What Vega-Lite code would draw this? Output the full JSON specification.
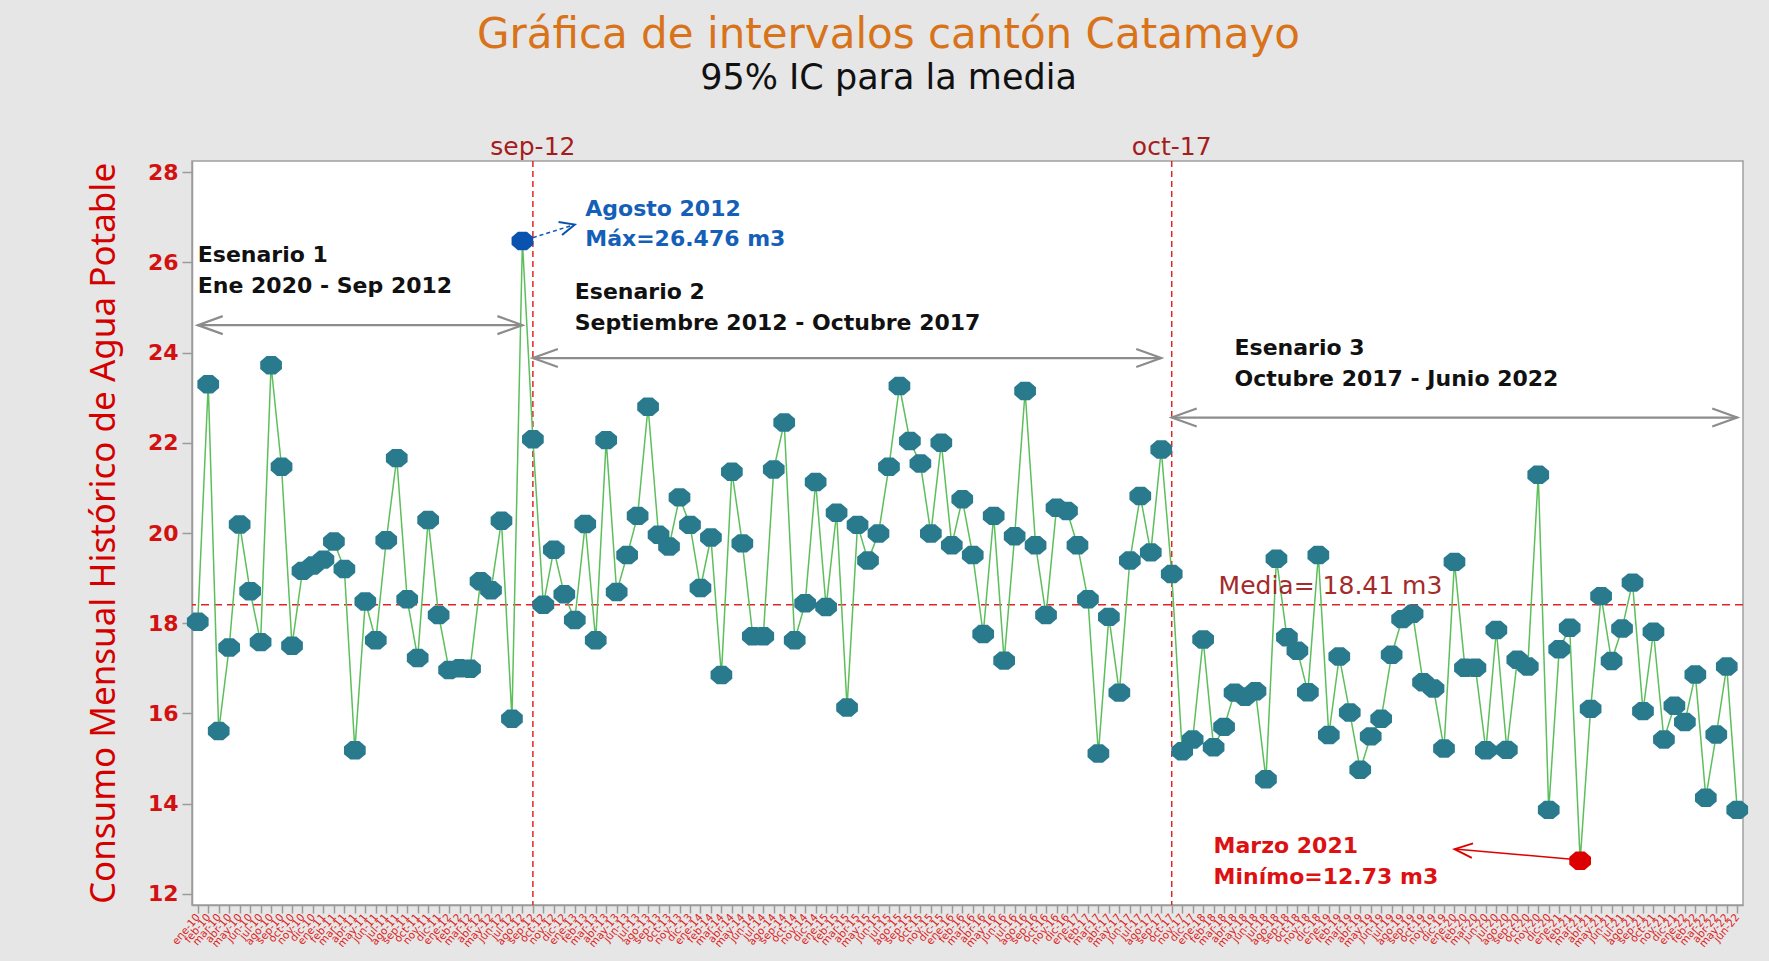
{
  "$schema": "https://vega.github.io/schema/vega-lite/v6.json",
  "width": 1551,
  "height": 744,
  "autosize": {"type": "none"},
  "padding": {"left": 192, "top": 161, "right": 26, "bottom": 56},
  "background": "#e6e6e6",
  "config": {
    "view": {"fill": "white", "stroke": "#a0a0a0", "strokeWidth": 1.5},
    "text": {"font": "DejaVu Sans"}
  },
  "title": {
    "text": "Gráfica de intervalos cantón Catamayo",
    "subtitle": "95% IC para la media",
    "color": "#d9731a",
    "font": "DejaVu Sans",
    "fontSize": 42,
    "fontWeight": "normal",
    "subtitleColor": "#111111",
    "subtitleFont": "DejaVu Sans",
    "subtitleFontSize": 35,
    "subtitlePadding": 4,
    "anchor": "middle",
    "frame": "group",
    "dx": -79,
    "offset": 38
  },
  "datasets": {
    "serie": [
      {"mes": "ene-10", "valor": 18.03}, {"mes": "feb-10", "valor": 23.30}, {"mes": "mar-10", "valor": 15.61}, {"mes": "abr-10", "valor": 17.46}, {"mes": "may-10", "valor": 20.19}, {"mes": "jun-10", "valor": 18.71}, {"mes": "jul-10", "valor": 17.58}, {"mes": "ago-10", "valor": 23.72}, {"mes": "sep-10", "valor": 21.47}, {"mes": "oct-10", "valor": 17.50}, {"mes": "nov-10", "valor": 19.16}, {"mes": "dic-10", "valor": 19.28},
      {"mes": "ene-11", "valor": 19.41}, {"mes": "feb-11", "valor": 19.81}, {"mes": "mar-11", "valor": 19.20}, {"mes": "abr-11", "valor": 15.18}, {"mes": "may-11", "valor": 18.48}, {"mes": "jun-11", "valor": 17.62}, {"mes": "jul-11", "valor": 19.84}, {"mes": "ago-11", "valor": 21.66}, {"mes": "sep-11", "valor": 18.53}, {"mes": "oct-11", "valor": 17.23}, {"mes": "nov-11", "valor": 20.29}, {"mes": "dic-11", "valor": 18.18},
      {"mes": "ene-12", "valor": 16.96}, {"mes": "feb-12", "valor": 17.00}, {"mes": "mar-12", "valor": 16.99}, {"mes": "abr-12", "valor": 18.93}, {"mes": "may-12", "valor": 18.73}, {"mes": "jun-12", "valor": 20.27}, {"mes": "jul-12", "valor": 15.88}, {"mes": "ago-12", "valor": 26.476}, {"mes": "sep-12", "valor": 22.08}, {"mes": "oct-12", "valor": 18.41}, {"mes": "nov-12", "valor": 19.63}, {"mes": "dic-12", "valor": 18.64},
      {"mes": "ene-13", "valor": 18.07}, {"mes": "feb-13", "valor": 20.20}, {"mes": "mar-13", "valor": 17.62}, {"mes": "abr-13", "valor": 22.06}, {"mes": "may-13", "valor": 18.69}, {"mes": "jun-13", "valor": 19.51}, {"mes": "jul-13", "valor": 20.38}, {"mes": "ago-13", "valor": 22.80}, {"mes": "sep-13", "valor": 19.96}, {"mes": "oct-13", "valor": 19.70}, {"mes": "nov-13", "valor": 20.79}, {"mes": "dic-13", "valor": 20.18},
      {"mes": "ene-14", "valor": 18.78}, {"mes": "feb-14", "valor": 19.90}, {"mes": "mar-14", "valor": 16.85}, {"mes": "abr-14", "valor": 21.36}, {"mes": "may-14", "valor": 19.77}, {"mes": "jun-14", "valor": 17.71}, {"mes": "jul-14", "valor": 17.71}, {"mes": "ago-14", "valor": 21.41}, {"mes": "sep-14", "valor": 22.45}, {"mes": "oct-14", "valor": 17.62}, {"mes": "nov-14", "valor": 18.44}, {"mes": "dic-14", "valor": 21.13},
      {"mes": "ene-15", "valor": 18.36}, {"mes": "feb-15", "valor": 20.45}, {"mes": "mar-15", "valor": 16.13}, {"mes": "abr-15", "valor": 20.18}, {"mes": "may-15", "valor": 19.39}, {"mes": "jun-15", "valor": 19.99}, {"mes": "jul-15", "valor": 21.47}, {"mes": "ago-15", "valor": 23.26}, {"mes": "sep-15", "valor": 22.04}, {"mes": "oct-15", "valor": 21.54}, {"mes": "nov-15", "valor": 19.99}, {"mes": "dic-15", "valor": 22.00},
      {"mes": "ene-16", "valor": 19.73}, {"mes": "feb-16", "valor": 20.75}, {"mes": "mar-16", "valor": 19.51}, {"mes": "abr-16", "valor": 17.76}, {"mes": "may-16", "valor": 20.38}, {"mes": "jun-16", "valor": 17.17}, {"mes": "jul-16", "valor": 19.93}, {"mes": "ago-16", "valor": 23.15}, {"mes": "sep-16", "valor": 19.73}, {"mes": "oct-16", "valor": 18.18}, {"mes": "nov-16", "valor": 20.56}, {"mes": "dic-16", "valor": 20.49},
      {"mes": "ene-17", "valor": 19.73}, {"mes": "feb-17", "valor": 18.53}, {"mes": "mar-17", "valor": 15.11}, {"mes": "abr-17", "valor": 18.14}, {"mes": "may-17", "valor": 16.46}, {"mes": "jun-17", "valor": 19.39}, {"mes": "jul-17", "valor": 20.82}, {"mes": "ago-17", "valor": 19.57}, {"mes": "sep-17", "valor": 21.85}, {"mes": "oct-17", "valor": 19.09}, {"mes": "nov-17", "valor": 15.16}, {"mes": "dic-17", "valor": 15.42},
      {"mes": "ene-18", "valor": 17.64}, {"mes": "feb-18", "valor": 15.25}, {"mes": "mar-18", "valor": 15.70}, {"mes": "abr-18", "valor": 16.46}, {"mes": "may-18", "valor": 16.37}, {"mes": "jun-18", "valor": 16.49}, {"mes": "jul-18", "valor": 14.54}, {"mes": "ago-18", "valor": 19.43}, {"mes": "sep-18", "valor": 17.69}, {"mes": "oct-18", "valor": 17.39}, {"mes": "nov-18", "valor": 16.47}, {"mes": "dic-18", "valor": 19.51},
      {"mes": "ene-19", "valor": 15.52}, {"mes": "feb-19", "valor": 17.26}, {"mes": "mar-19", "valor": 16.02}, {"mes": "abr-19", "valor": 14.75}, {"mes": "may-19", "valor": 15.49}, {"mes": "jun-19", "valor": 15.88}, {"mes": "jul-19", "valor": 17.30}, {"mes": "ago-19", "valor": 18.09}, {"mes": "sep-19", "valor": 18.21}, {"mes": "oct-19", "valor": 16.69}, {"mes": "nov-19", "valor": 16.55}, {"mes": "dic-19", "valor": 15.22},
      {"mes": "ene-20", "valor": 19.36}, {"mes": "feb-20", "valor": 17.01}, {"mes": "mar-20", "valor": 17.01}, {"mes": "jun-20", "valor": 15.18}, {"mes": "jul-20", "valor": 17.85}, {"mes": "ago-20", "valor": 15.19}, {"mes": "sep-20", "valor": 17.19}, {"mes": "oct-20", "valor": 17.04}, {"mes": "nov-20", "valor": 21.29}, {"mes": "dic-20", "valor": 13.86},
      {"mes": "ene-21", "valor": 17.42}, {"mes": "feb-21", "valor": 17.90}, {"mes": "mar-21", "valor": 12.73}, {"mes": "abr-21", "valor": 16.10}, {"mes": "may-21", "valor": 18.60}, {"mes": "jun-21", "valor": 17.16}, {"mes": "jul-21", "valor": 17.88}, {"mes": "ago-21", "valor": 18.90}, {"mes": "sep-21", "valor": 16.05}, {"mes": "oct-21", "valor": 17.81}, {"mes": "nov-21", "valor": 15.42}, {"mes": "dic-21", "valor": 16.17},
      {"mes": "ene-22", "valor": 15.81}, {"mes": "feb-22", "valor": 16.86}, {"mes": "mar-22", "valor": 14.13}, {"mes": "abr-22", "valor": 15.53}, {"mes": "may-22", "valor": 17.04}, {"mes": "jun-22", "valor": 13.86}
    ],
    "cortes": [
      {"mes": "sep-12", "etiqueta": "sep-12", "ytexto": 28.39},
      {"mes": "oct-17", "etiqueta": "oct-17", "ytexto": 28.39}
    ],
    "flechas": [
      {"desde": "ene-10", "hasta": "ago-12", "y": 24.61},
      {"desde": "sep-12", "hasta": "sep-17", "y": 23.88},
      {"desde": "oct-17", "hasta": "jun-22", "y": 22.56}
    ],
    "escenarios": [
      {"mes": "ene-10", "y": 26.02, "texto": ["Esenario 1", "Ene 2020 - Sep 2012"]},
      {"mes": "ene-13", "y": 25.19, "texto": ["Esenario 2", "Septiembre 2012 - Octubre 2017"]},
      {"mes": "abr-18", "y": 23.94, "texto": ["Esenario 3", "Octubre 2017 - Junio 2022"]}
    ]
  },
  "layer": [
    {
      "data": {"values": [{"media": 18.41}]},
      "mark": {"type": "rule", "color": "#e02525", "strokeWidth": 1.5, "strokeDash": [8, 5]},
      "encoding": {"y": {"field": "media", "type": "quantitative"}}
    },
    {
      "data": {"name": "cortes"},
      "mark": {"type": "rule", "color": "#e02525", "strokeWidth": 1.5, "strokeDash": [6, 4]},
      "encoding": {"x": {"field": "mes", "type": "ordinal"}}
    },
    {
      "data": {"name": "cortes"},
      "mark": {"type": "text", "color": "#a51c1c", "fontSize": 25, "align": "center", "baseline": "alphabetic"},
      "encoding": {
        "x": {"field": "mes", "type": "ordinal"},
        "y": {"field": "ytexto", "type": "quantitative"},
        "text": {"field": "etiqueta"}
      }
    },
    {
      "data": {"name": "serie"},
      "mark": {"type": "line", "color": "#5cbf5c", "strokeWidth": 1.5},
      "encoding": {
        "x": {
          "field": "mes",
          "type": "ordinal",
          "scale": {
            "type": "point",
            "padding": 0.55,
            "domain": ["ene-10","feb-10","mar-10","abr-10","may-10","jun-10","jul-10","ago-10","sep-10","oct-10","nov-10","dic-10","ene-11","feb-11","mar-11","abr-11","may-11","jun-11","jul-11","ago-11","sep-11","oct-11","nov-11","dic-11","ene-12","feb-12","mar-12","abr-12","may-12","jun-12","jul-12","ago-12","sep-12","oct-12","nov-12","dic-12","ene-13","feb-13","mar-13","abr-13","may-13","jun-13","jul-13","ago-13","sep-13","oct-13","nov-13","dic-13","ene-14","feb-14","mar-14","abr-14","may-14","jun-14","jul-14","ago-14","sep-14","oct-14","nov-14","dic-14","ene-15","feb-15","mar-15","abr-15","may-15","jun-15","jul-15","ago-15","sep-15","oct-15","nov-15","dic-15","ene-16","feb-16","mar-16","abr-16","may-16","jun-16","jul-16","ago-16","sep-16","oct-16","nov-16","dic-16","ene-17","feb-17","mar-17","abr-17","may-17","jun-17","jul-17","ago-17","sep-17","oct-17","nov-17","dic-17","ene-18","feb-18","mar-18","abr-18","may-18","jun-18","jul-18","ago-18","sep-18","oct-18","nov-18","dic-18","ene-19","feb-19","mar-19","abr-19","may-19","jun-19","jul-19","ago-19","sep-19","oct-19","nov-19","dic-19","ene-20","feb-20","mar-20","jun-20","jul-20","ago-20","sep-20","oct-20","nov-20","dic-20","ene-21","feb-21","mar-21","abr-21","may-21","jun-21","jul-21","ago-21","sep-21","oct-21","nov-21","dic-21","ene-22","feb-22","mar-22","abr-22","may-22","jun-22"]
          },
          "axis": {
            "title": null,
            "labelAngle": -50,
            "labelFont": "DejaVu Sans",
            "labelFontSize": 10.5,
            "labelColor": "#dd2222",
            "labelOverlap": false,
            "labelPadding": 2,
            "tickColor": "#9a9a9a",
            "tickSize": 8,
            "tickWidth": 1.5,
            "domainColor": "#9a9a9a",
            "domainWidth": 1.5,
            "grid": false
          }
        },
        "y": {
          "field": "valor",
          "type": "quantitative",
          "scale": {"domain": [11.75, 28.25], "nice": false, "zero": false},
          "axis": {
            "title": "Consumo Mensual Histórico de Agua Potable",
            "titleFont": "Noto Sans",
            "titleFontSize": 35,
            "titleFontWeight": "normal",
            "titleColor": "#d40000",
            "titlePadding": 26,
            "values": [12, 14, 16, 18, 20, 22, 24, 26, 28],
            "labelFont": "DejaVu Sans",
            "labelFontWeight": "bold",
            "labelFontSize": 22,
            "labelColor": "#d41111",
            "labelPadding": 4,
            "tickColor": "#9a9a9a",
            "tickSize": 10,
            "tickWidth": 1.5,
            "domainColor": "#9a9a9a",
            "domainWidth": 1.5,
            "grid": false
          }
        }
      }
    },
    {
      "data": {"name": "serie"},
      "mark": {"type": "point", "filled": true, "opacity": 1, "size": 471, "shape": "M1,-0.35L0.414,-0.85L-0.414,-0.85L-1,-0.35L-1,0.35L-0.414,0.85L0.414,0.85L1,0.35Z"},
      "encoding": {
        "x": {"field": "mes", "type": "ordinal"},
        "y": {"field": "valor", "type": "quantitative"},
        "color": {
          "condition": [
            {"test": "datum.valor == 26.476", "value": "#0a52b0"},
            {"test": "datum.valor == 12.73", "value": "#dd0000"}
          ],
          "value": "#2a7a8e"
        }
      }
    },
    {
      "data": {"name": "flechas"},
      "mark": {"type": "rule", "color": "#8c8c8c", "strokeWidth": 2.2},
      "encoding": {
        "x": {"field": "desde", "type": "ordinal"},
        "x2": {"field": "hasta"},
        "y": {"field": "y", "type": "quantitative"}
      }
    },
    {
      "data": {"name": "flechas"},
      "mark": {"type": "point", "filled": false, "opacity": 1, "color": "#8c8c8c", "strokeWidth": 2.2, "size": 2500, "shape": "M1,-0.36L0,0L1,0.36"},
      "encoding": {
        "x": {"field": "desde", "type": "ordinal"},
        "y": {"field": "y", "type": "quantitative"}
      }
    },
    {
      "data": {"name": "flechas"},
      "mark": {"type": "point", "filled": false, "opacity": 1, "color": "#8c8c8c", "strokeWidth": 2.2, "size": 2500, "shape": "M-1,-0.36L0,0L-1,0.36"},
      "encoding": {
        "x": {"field": "hasta", "type": "ordinal"},
        "y": {"field": "y", "type": "quantitative"}
      }
    },
    {
      "data": {"name": "escenarios"},
      "mark": {"type": "text", "align": "left", "baseline": "alphabetic", "fontSize": 22, "fontWeight": "bold", "color": "#111111", "lineHeight": 31},
      "encoding": {
        "x": {"field": "mes", "type": "ordinal"},
        "y": {"field": "y", "type": "quantitative"},
        "text": {"field": "texto"}
      }
    },
    {
      "data": {"values": [{"x1": "sep-12", "y1": 26.55, "x2": "ene-13", "y2": 26.84}]},
      "mark": {"type": "rule", "color": "#0a52b0", "strokeWidth": 1.5, "strokeDash": [4, 3]},
      "encoding": {
        "x": {"field": "x1", "type": "ordinal"},
        "y": {"field": "y1", "type": "quantitative"},
        "x2": {"field": "x2"},
        "y2": {"field": "y2"}
      }
    },
    {
      "data": {"values": [{"mes": "ene-13", "y": 26.84}]},
      "mark": {"type": "point", "filled": false, "opacity": 1, "color": "#0a52b0", "strokeWidth": 2, "size": 900, "angle": -15, "shape": "M-1,-0.45L0,0L-1,0.45"},
      "encoding": {
        "x": {"field": "mes", "type": "ordinal"},
        "y": {"field": "y", "type": "quantitative"}
      }
    },
    {
      "data": {"values": [{"mes": "feb-13", "y": 27.02, "texto": ["Agosto 2012", "Máx=26.476 m3"]}]},
      "mark": {"type": "text", "align": "left", "baseline": "alphabetic", "fontSize": 22, "fontWeight": "bold", "color": "#1460b8", "lineHeight": 30},
      "encoding": {
        "x": {"field": "mes", "type": "ordinal"},
        "y": {"field": "y", "type": "quantitative"},
        "text": {"field": "texto"}
      }
    },
    {
      "data": {"values": [{"x1": "mar-21", "y1": 12.75, "x2": "ene-20", "y2": 12.99}]},
      "mark": {"type": "rule", "color": "#dd0000", "strokeWidth": 1.5},
      "encoding": {
        "x": {"field": "x1", "type": "ordinal"},
        "y": {"field": "y1", "type": "quantitative"},
        "x2": {"field": "x2"},
        "y2": {"field": "y2"}
      }
    },
    {
      "data": {"values": [{"mes": "ene-20", "y": 12.99}]},
      "mark": {"type": "point", "filled": false, "opacity": 1, "color": "#dd0000", "strokeWidth": 1.8, "size": 1300, "angle": 5, "shape": "M1,-0.4L0,0L1,0.4"},
      "encoding": {
        "x": {"field": "mes", "type": "ordinal"},
        "y": {"field": "y", "type": "quantitative"}
      }
    },
    {
      "data": {"values": [{"mes": "feb-18", "y": 12.9, "texto": ["Marzo 2021", "Minímo=12.73 m3"]}]},
      "mark": {"type": "text", "align": "left", "baseline": "alphabetic", "fontSize": 22, "fontWeight": "bold", "color": "#dd1111", "lineHeight": 31},
      "encoding": {
        "x": {"field": "mes", "type": "ordinal"},
        "y": {"field": "y", "type": "quantitative"},
        "text": {"field": "texto"}
      }
    },
    {
      "data": {"values": [{"mes": "feb-18", "y": 18.64, "texto": "Media= 18.41 m3"}]},
      "mark": {"type": "text", "align": "left", "baseline": "alphabetic", "fontSize": 25, "color": "#a52a2a", "dx": 5},
      "encoding": {
        "x": {"field": "mes", "type": "ordinal"},
        "y": {"field": "y", "type": "quantitative"},
        "text": {"field": "texto"}
      }
    }
  ]
}
